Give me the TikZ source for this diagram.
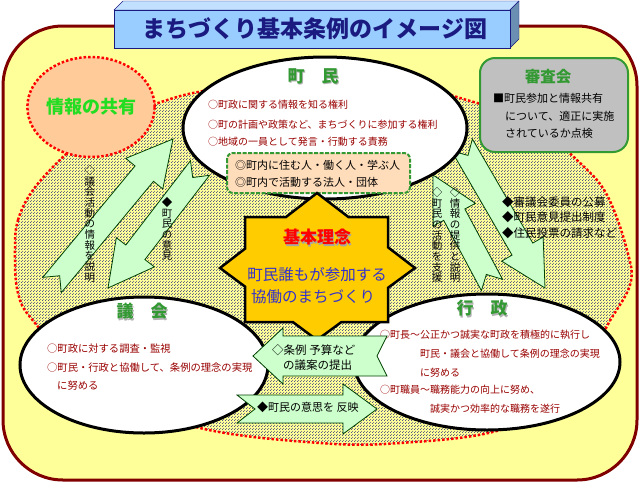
\documentclass[tikz,border=0pt]{standalone}
\usepackage{fontspec}
\setmainfont{Noto Sans CJK JP}
\usetikzlibrary{shapes.geometric,patterns.meta,calc}
\definecolor{fond}{HTML}{FFFF99}
\definecolor{marron}{HTML}{800000}
\definecolor{rougetexte}{HTML}{990000}
\definecolor{vertitre}{HTML}{339933}
\definecolor{vertvif}{HTML}{22DD22}
\definecolor{vertfleche}{HTML}{CCFFCC}
\definecolor{bleutitre}{HTML}{99CCFF}
\definecolor{bleufonce}{HTML}{1A1A80}
\definecolor{bleutexte}{HTML}{3333CC}
\definecolor{orange}{HTML}{FFCC99}
\definecolor{peche}{HTML}{FFDDBB}
\definecolor{or}{HTML}{FFCC00}
\definecolor{gris}{HTML}{C0C0C0}
% Trame pointillee
\tikzdeclarepattern{
  name=pointille,
  type=uncolored,
  bounding box={(0pt,0pt) and (3pt,3pt)},
  tile size={(3pt,3pt)},
  code={\fill (0.75pt,0.75pt) circle (0.62pt); \fill (2.25pt,2.25pt) circle (0.62pt);}
}
% Texte avec ombre
\newcommand{\ombre}[2]{\rlap{\textcolor{#1}{\kern1.2pt\raisebox{-1.2pt}{#2}}}#2}
% Fleche a queue entaillee : queue, pointe, demi-corps, demi-tete, longueur tete, entaille
\newcommand{\flecheentaille}[6]{%
  \coordinate (hb) at ($(#2)!#5!(#1)$);
  \draw[fleche] ($(#1)!#3!90:(#2)$) -- ($(hb)!#3!90:(#2)$) -- ($(hb)!#4!90:(#2)$)
    -- (#2) -- ($(hb)!#4!-90:(#2)$) -- ($(hb)!#3!-90:(#2)$) -- ($(#1)!#3!-90:(#2)$)
    -- ($(#1)!#6!(#2)$) -- cycle;}
\begin{document}
\begin{tikzpicture}[x=1pt,y=-1pt]
  % Styles
  \tikzstyle{cadre}=[draw=marron,line width=3pt,fill=fond,rounded corners=60pt]
  \tikzstyle{zone}=[draw=red,line width=2.5pt,dash pattern=on 2.5pt off 2pt,
    preaction={fill=fond},pattern=pointille,pattern color=bleufonce]
  \tikzstyle{bulle}=[ellipse,draw=black,line width=3pt,fill=white,inner sep=0pt]
  \tikzstyle{fleche}=[draw=black!75!green,line width=0.8pt,fill=vertfleche,line join=miter]
  \tikzstyle{titre}=[font=\fontsize{17}{17}\selectfont\bfseries,text=vertitre]
  \tikzstyle{ligne}=[anchor=west,inner sep=0pt,font=\fontsize{10}{10}\selectfont,text=rougetexte]
  \tikzstyle{noir}=[anchor=west,inner sep=0pt,font=\fontsize{11}{11}\selectfont]
  \tikzstyle{vertical}=[anchor=north,align=center,inner sep=0pt,
    font=\fontsize{10.5}{10.7}\selectfont]
  \useasboundingbox (0,0) rectangle (641,483);
  % Fond
  \draw[cadre] (3,26) rectangle (637,480);
  \draw[zone] plot[smooth cycle,tension=0.6] coordinates {(15,250) (18,220) (33,190)
    (63,157) (100,125) (152,105) (210,90) (320,80) (413,86) (460,98) (530,122)
    (580,163) (607,195) (627,250) (630,285) (605,330) (580,390) (500,430) (400,443)
    (320,443) (200,428) (100,390) (35,323) (18,293)};
  \node[ellipse,draw=red,line width=2.5pt,dash pattern=on 2.5pt off 2pt,fill=orange,
    minimum width=118pt,minimum height=100pt,inner sep=0pt,
    font=\fontsize{18}{18}\selectfont\bfseries,text=vertvif] (partage) at (91,107) {情報の共有};
  % Fleches obliques
  \coordinate (qL1) at (52,285);  \coordinate (pL1) at (173,139);
  \coordinate (qL2) at (200,168); \coordinate (pL2) at (108,288);
  \coordinate (qR1) at (462,145); \coordinate (pR1) at (545,288);
  \coordinate (qR2) at (492,285); \coordinate (pR2) at (433,175);
  \flecheentaille{qL1}{pL1}{12pt}{24pt}{45pt}{12pt}
  \flecheentaille{qL2}{pL2}{12pt}{24pt}{45pt}{12pt}
  \flecheentaille{qR1}{pR1}{12pt}{24pt}{45pt}{12pt}
  \flecheentaille{qR2}{pR2}{12pt}{24pt}{45pt}{12pt}
  % Bulles
  \node[bulle,minimum width=284pt,minimum height=142pt] (machi) at (325,128) {};
  \node[bulle,minimum width=248pt,minimum height=136pt] (gikai) at (144,365) {};
  \node[bulle,minimum width=266pt,minimum height=136pt] (gyosei) at (487,362) {};
  % Noeuds du haut
  \node[titre] (tmachi) at (313,77) {\ombre{gray!60}{町　民}};
  \node[ligne] (m1) at (208,105) {○町政に関する情報を知る権利};
  \node[ligne] (m2) at (208,125) {○町の計画や政策など、まちづくりに参加する権利};
  \node[ligne] (m3) at (208,142) {○地域の一員として発言・行動する責務};
  \draw[draw=vertitre,line width=2pt,dash pattern=on 4pt off 1.5pt,fill=peche,
    rounded corners=6pt] (227,153) rectangle (410,193);
  \node[noir] (h1) at (235,165) {◎町内に住む人・働く人・学ぶ人};
  \node[noir] (h2) at (235,182) {◎町内で活動する法人・団体};
  % Etoile
  \draw[fill=or,line width=2.5pt,line join=miter] (317,193) -- (348.4,217) -- (388,217)
    -- (388,247.3) -- (415,268) -- (388,287.8) -- (388,322) -- (341.5,322) -- (317,340)
    -- (292.8,322) -- (245,322) -- (245,286.6) -- (220,268) -- (245,248.7) -- (245,217)
    -- (286,217) -- cycle;
  \node[font=\fontsize{17}{17}\selectfont\bfseries,text=red] (rinen) at (317,238)
    {\ombre{gray!70}{基本理念}};
  \node[font=\fontsize{15.5}{15.5}\selectfont,text=bleutexte] (r1) at (317,275) {町民誰もが参加する};
  \node[font=\fontsize{15.5}{15.5}\selectfont,text=bleutexte] (r2) at (313,297) {協働のまちづくり};
  % Noeuds du bas
  \node[titre] (tgikai) at (142,312) {\ombre{gray!60}{議　会}};
  \node[ligne,font=\fontsize{10.3}{10.3}\selectfont] (g1) at (47,349) {○町政に対する調査・監視};
  \node[ligne,font=\fontsize{10.3}{10.3}\selectfont] (g2) at (47,368) {○町民・行政と協働して、条例の理念の実現};
  \node[ligne,font=\fontsize{10.3}{10.3}\selectfont] (g3) at (57,386) {に努める};
  \node[titre] (tgyosei) at (482,309) {\ombre{gray!60}{行　政}};
  \node[ligne] (s1) at (380,335) {○町長～公正かつ誠実な町政を積極的に執行し};
  \node[ligne] (s2) at (420,354) {町民・議会と協働して条例の理念の実現};
  \node[ligne] (s3) at (420,373) {に努める};
  \node[ligne] (s4) at (380,390) {○町職員～職務能力の向上に努め、};
  \node[ligne] (s5) at (430,409) {誠実かつ効率的な職務を遂行};
  % Fleches horizontales
  \coordinate (qB1) at (387,356); \coordinate (pB1) at (253,356);
  \coordinate (qB2) at (237,409); \coordinate (pB2) at (377,409);
  \flecheentaille{qB1}{pB1}{20pt}{28pt}{30pt}{10pt}
  \flecheentaille{qB2}{pB2}{14pt}{25pt}{34pt}{18pt}
  \node[noir,font=\fontsize{11.5}{11.5}\selectfont] (b1) at (272,350) {◇条例 予算など};
  \node[noir,font=\fontsize{11.5}{11.5}\selectfont] (b2) at (283,365) {の議案の提出};
  \node[noir] (b3) at (257,407) {◆町民の意思を 反映};
  % Textes verticaux
  \node[vertical] (v1) at (90,165) {◇\\議\\会\\活\\動\\の\\情\\報\\を\\説\\明};
  \node[vertical] (v2) at (167,197) {◆\\町\\民\\の\\意\\見};
  \node[vertical] (v3) at (437,187) {◇\\町\\民\\の\\活\\動\\を\\支\\援};
  \node[vertical] (v4) at (455,187) {◇\\情\\報\\の\\提\\供\\と\\説\\明};
  \node[noir,font=\fontsize{11.5}{11.5}\selectfont] (d1) at (502,202) {◆審議会委員の公募};
  \node[noir,font=\fontsize{11.5}{11.5}\selectfont] (d2) at (502,217) {◆町民意見提出制度};
  \node[noir,font=\fontsize{11.5}{11.5}\selectfont] (d3) at (502,233) {◆住民投票の請求など};
  % Shinsakai
  \draw[draw=vertitre,line width=2pt,fill=gris,rounded corners=15pt] (480,58) rectangle (628,152);
  \node[font=\fontsize{15.5}{15.5}\selectfont\bfseries,text=vertitre] (shinsa) at (548,77) {審査会};
  \node[noir] (k1) at (493,98) {■町民参加と情報共有};
  \node[noir] (k2) at (505,116) {について、適正に実施};
  \node[noir] (k3) at (505,133) {されているか点検};
  % Titre
  \draw[draw=bleufonce,fill=bleutitre!60!white] (114,10) -- (123,1) -- (519,1) -- (510,10) -- cycle;
  \draw[draw=bleufonce,fill=bleutitre!70!black] (510,10) -- (519,1) -- (519,39) -- (510,48) -- cycle;
  \draw[draw=bleufonce,fill=bleutitre] (114,10) rectangle (510,48);
  \node[font=\fontsize{23}{23}\selectfont\bfseries,text=bleufonce] (titre) at (315,29)
    {まちづくり基本条例のイメージ図};
\end{tikzpicture}
\end{document}
